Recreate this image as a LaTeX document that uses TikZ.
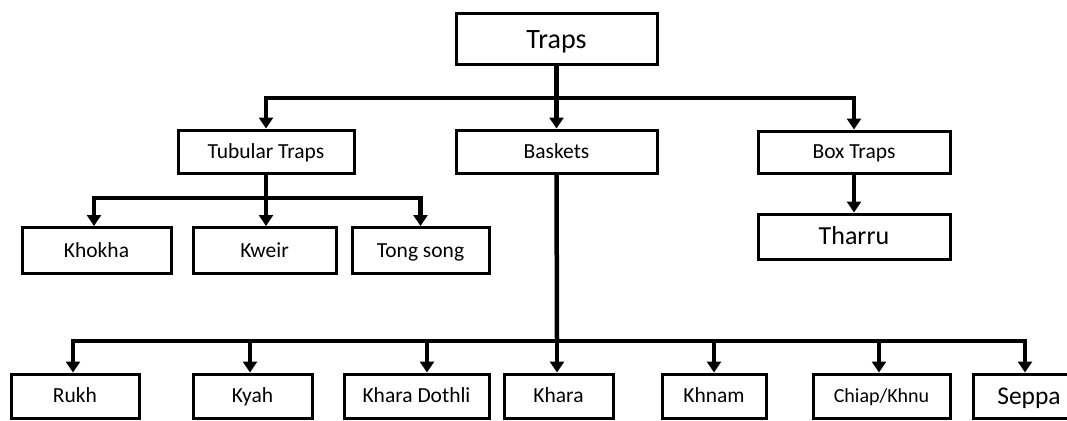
\documentclass[tikz,border=0pt]{standalone}
\usepackage{fontspec}
\setmainfont{Carlito}
\usetikzlibrary{arrows.meta}
\begin{document}
\begin{tikzpicture}[x=1pt,y=-1pt,
  box/.style={draw=black,line width=3pt,fill=white,inner sep=0pt,
    text height=13.8pt,text depth=0pt,
    font=\fontsize{21.5}{25}\selectfont},
  big/.style={text height=#1*0.644pt,font=\fontsize{#1}{#1}\selectfont},
  conn/.style={draw=black,line width=4.5pt},
  arr/.style={conn,-{Triangle[length=11pt,width=14pt]}}]
\useasboundingbox[fill=white] (0,0) rectangle (1067,420);
% level 0
\node[box,big=28,minimum width=201pt,minimum height=50pt] (traps) at (556.5,39) {Traps};
% level 1
\node[box,minimum width=176pt,minimum height=43pt] (tub) at (266,151.5) {Tubular Traps};
\node[box,minimum width=201pt,minimum height=43pt] (bask) at (556.5,151.5) {Baskets};
\node[box,minimum width=192pt,minimum height=42pt] (boxt) at (854,152) {Box Traps};
% Box traps child
\node[box,big=26,minimum width=192pt,minimum height=45pt] (tharru) at (854,236.5) {Tharru};
% tubular children
\node[box,minimum width=149pt,minimum height=46pt] (khokha) at (96.5,250.5) {Khokha};
\node[box,minimum width=143pt,minimum height=46pt] (kweir) at (264.5,250.5) {Kweir};
\node[box,minimum width=137pt,minimum height=46pt] (tong) at (420.5,250.5) {Tong song};
% basket children
\node[box,minimum width=128pt,minimum height=44pt] (rukh) at (75,396) {Rukh};
\node[box,minimum width=119pt,minimum height=44pt] (kyah) at (252.5,396) {Kyah};
\node[box,minimum width=145pt,minimum height=44pt] (kd) at (416.5,396) {Khara Dothli};
\node[box,minimum width=109pt,minimum height=44pt] (khara) at (558.5,396) {Khara};
\node[box,minimum width=104pt,minimum height=44pt] (khnam) at (714,396) {Khnam};
\node[box,big=20,minimum width=137pt,minimum height=44pt] (chiap) at (881.5,396) {Chiap/Khnu};
\node[box,big=25.5,minimum width=112pt,minimum height=44pt] (seppa) at (1029,396) {Seppa};
% connectors level 0 -> 1
\coordinate (j0) at (557,98);
\draw[arr] (traps.south) -- (bask.north);
\draw[arr] (j0) -| (tub.north);
\draw[arr] (j0) -| (boxt.north);
% box traps -> tharru
\draw[arr] (boxt.south) -- (tharru.north);
% tubular -> children
\coordinate (j1) at (266,198);
\draw[conn] (tub.south) -- (j1);
\draw[arr] (j1) -| ([xshift=-2.5pt]khokha.north);
\draw[arr] (j1) -| ([xshift=1.5pt]kweir.north);
\draw[arr] (j1) -| (tong.north);
% baskets -> children
\coordinate (j2) at (557,341);
\draw[conn] (bask.south) -- (j2);
\draw[arr] (j2) -| ([xshift=-2pt]rukh.north);
\draw[arr] (j2) -| ([xshift=-2.5pt]kyah.north);
\draw[arr] (j2) -| ([xshift=10.5pt]kd.north);
\draw[arr] (j2) -| ([xshift=-1.5pt]khara.north);
\draw[arr] (j2) -| (khnam.north);
\draw[arr] (j2) -| ([xshift=-2.5pt]chiap.north);
\draw[arr] (j2) -| ([xshift=-4pt]seppa.north);
\end{tikzpicture}
\end{document}
